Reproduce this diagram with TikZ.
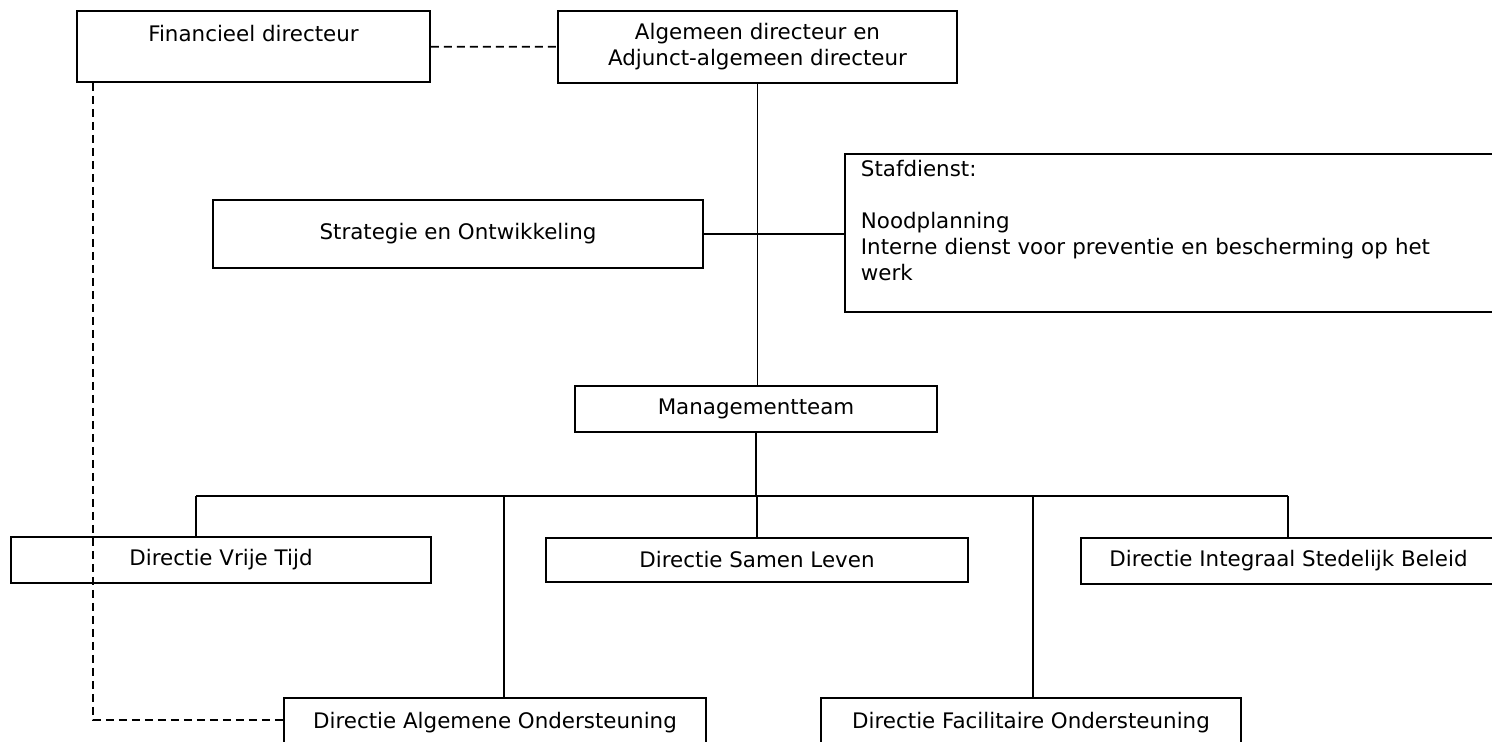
\documentclass[tikz,border=0pt]{standalone}
\usepackage{fontspec}
\setmainfont{DejaVu Sans}

\begin{document}
\begin{tikzpicture}[x=0.5pt,y=-0.5pt,
    font=\fontsize{10.7}{13}\selectfont,
    box/.style={draw, rectangle, line width=0.9pt, align=center, inner sep=0pt},
    link/.style={line width=0.9pt},
    dotlink/.style={link, dash pattern=on 4pt off 2.5pt}]
    \useasboundingbox (0,0) rectangle (1492,741);

    % top
    \node[box, minimum width=176.5pt, minimum height=35.5pt] (fin) at (253.5,46.5) {Financieel directeur\\ \mbox{}};
    \node[box, minimum width=199.5pt, minimum height=36pt] (alg) at (757.5,47) {Algemeen directeur en\\Adjunct-algemeen directeur};

    % staff level
    \node[box, minimum width=245pt, minimum height=34pt] (strat) at (458,234) {Strategie en Ontwikkeling};
    \node[box, anchor=west, align=left, text width=330pt, inner xsep=8pt, minimum height=79pt] (staf) at (844,233)
        {Stafdienst:\\ \mbox{}\\ Noodplanning\\ Interne dienst voor preventie en bescherming op het\\ werk\\ \mbox{}};

    \node[box, minimum width=181pt, minimum height=23pt] (mgmt) at (756,409) {Managementteam};

    % directies
    \node[box, minimum width=210pt, minimum height=23pt] (vrije) at (221,560) {Directie Vrije Tijd};
    \node[box, minimum width=211pt, minimum height=22pt] (samen) at (757,560) {Directie Samen Leven};
    \node[box, minimum width=207.5pt, minimum height=23pt] (integ) at (1288.5,561) {Directie Integraal Stedelijk Beleid};
    \node[box, minimum width=211pt, minimum height=25pt] (algond) at (495,723) {Directie Algemene Ondersteuning};
    \node[box, minimum width=210pt, minimum height=25pt] (facil) at (1031,723) {Directie Facilitaire Ondersteuning};

    \draw[dotlink] (fin) -- (alg);
    \draw[link] (alg) -- (alg |- mgmt.north);
    \draw[link] (strat) -- (strat -| staf.west);

    \foreach \x/\n in {196/vrije, 504/algond, 757/samen, 1033/facil, 1288/integ} {
        \coordinate (d\n) at (\x,496);
        \draw[link] (d\n) -- (d\n |- \n.north);
    }
    \draw[link] (dvrije) -- (dinteg);
    \draw[link] (mgmt) -- (mgmt |- dsamen);

    \coordinate (fbend) at (93,720);
    \draw[dotlink] (fin.south -| fbend) -- (fbend) -- (fbend -| algond.west);
\end{tikzpicture}
\end{document}
